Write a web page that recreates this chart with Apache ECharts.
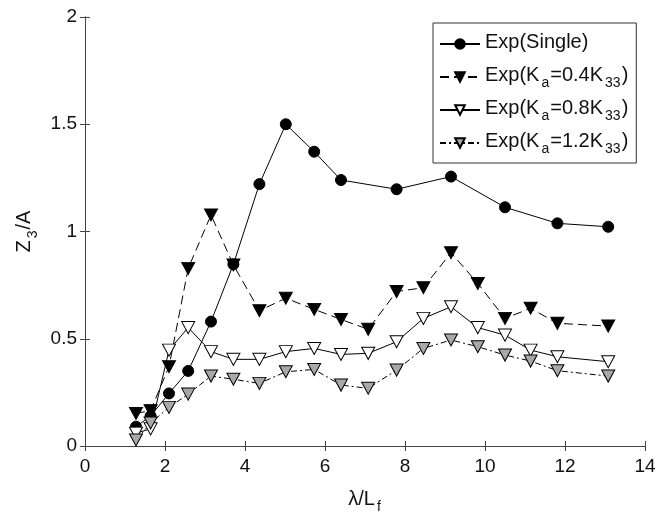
<!DOCTYPE html>
<html>
<head>
<meta charset="utf-8">
<script src="https://cdn.jsdelivr.net/npm/echarts@6/dist/echarts.min.js"></script>
<style>
  html, body { margin: 0; padding: 0; background: #fff; }
  #chart { width: 671px; height: 515px; }
</style>
</head>
<body>
<div id="chart"></div>
<script>
// λ/Lf 取值
const xSingle = [1.275, 1.64, 2.1, 2.58, 3.15, 3.71, 4.36, 5.02, 5.73, 6.4, 7.79, 9.15, 10.5, 11.81, 13.08]
const xKa = [1.275, 1.64, 2.1, 2.58, 3.15, 3.71, 4.36, 5.02, 5.73, 6.4, 7.08, 7.79, 8.46, 9.15, 9.82, 10.5, 11.14, 11.81, 13.08]

// Z3/A
const ySingle = [0.09, 0.14, 0.245, 0.35, 0.58, 0.847, 1.221, 1.5, 1.372, 1.24, 1.197, 1.256, 1.113, 1.038, 1.022]
const yKa04 = [0.152, 0.165, 0.37, 0.828, 1.077, 0.844, 0.631, 0.689, 0.637, 0.59, 0.544, 0.72, 0.738, 0.901, 0.758, 0.595, 0.642, 0.572, 0.559]
const yKa08 = [0.06, 0.08, 0.447, 0.552, 0.44, 0.404, 0.404, 0.44, 0.455, 0.427, 0.432, 0.486, 0.595, 0.649, 0.552, 0.517, 0.447, 0.416, 0.393]
const yKa12 = [0.028, 0.107, 0.18, 0.242, 0.326, 0.311, 0.292, 0.346, 0.357, 0.284, 0.269, 0.354, 0.455, 0.494, 0.463, 0.424, 0.396, 0.351, 0.326]

const seriesNames = ['Exp(Single)', 'Exp(Ka=0.4K33)', 'Exp(Ka=0.8K33)', 'Exp(Ka=1.2K33)']
// 图例里带下标的写法
const legendRich = {
  'Exp(Single)': '{n|Exp(Single)}{s| }',
  'Exp(Ka=0.4K33)': '{n|Exp(K}{s|a}{n|=0.4K}{s|33}{n|)}',
  'Exp(Ka=0.8K33)': '{n|Exp(K}{s|a}{n|=0.8K}{s|33}{n|)}',
  'Exp(Ka=1.2K33)': '{n|Exp(K}{s|a}{n|=1.2K}{s|33}{n|)}'
}

const FONT = '"Liberation Sans", Arial, sans-serif'
const triDown = 'path://M0,0 L12,0 L6,11 Z'
const subRich = {
  n: { fontSize: 20, lineHeight: 24, verticalAlign: 'top', fontFamily: FONT, color: '#111' },
  s: { fontSize: 14, lineHeight: 14, padding: [12, 1, 0, 2], fontFamily: FONT, color: '#111' }
}

const pair = (xs, ys) => xs.map((x, i) => [x, ys[i]])

const chart = echarts.init(document.getElementById('chart'))
const axisLine = { show: true, lineStyle: { color: '#444', width: 1 } }
const tick = { show: true, inside: true, length: 5, lineStyle: { color: '#444' } }
const tickLabel = { fontFamily: FONT, fontSize: 19, color: '#111' }

const option = {
  animation: false,
  backgroundColor: '#fff',
  grid: { left: 85, right: 26, top: 17, bottom: 69, outerBoundsMode: 'none', containLabel: false },
  legend: {
    data: seriesNames,
    orient: 'vertical',
    left: 433,
    top: 23,
    padding: [8, 8, 7, 6],
    itemGap: 7,
    itemWidth: 40,
    itemHeight: 12,
    borderColor: '#333',
    borderWidth: 1,
    borderRadius: 0,
    backgroundColor: '#fff',
    formatter: name => legendRich[name],
    textStyle: { fontFamily: FONT, fontSize: 20, color: '#111', rich: subRich }
  },
  xAxis: [
    {
      type: 'value', min: 0, max: 14, interval: 2,
      name: '{n|λ/L}{s|f}', nameLocation: 'middle', nameGap: 43,
      nameTextStyle: { rich: subRich },
      axisLine, axisTick: tick, splitLine: { show: false },
      axisLabel: Object.assign({ margin: 11 }, tickLabel)
    },
    {
      type: 'value', min: 0, max: 14, interval: 2, position: 'top',
      axisLine, axisTick: tick, splitLine: { show: false }, axisLabel: { show: false }
    }
  ],
  yAxis: [
    {
      type: 'value', min: 0, max: 2, interval: 0.5,
      name: '{n|Z}{s|3}{n|/A}', nameLocation: 'middle', nameGap: 44, nameRotate: 90,
      nameTextStyle: { rich: subRich },
      axisLine, axisTick: tick, splitLine: { show: false },
      axisLabel: Object.assign({ margin: 8 }, tickLabel)
    },
    {
      type: 'value', min: 0, max: 2, interval: 0.5, position: 'right',
      axisLine, axisTick: tick, splitLine: { show: false }, axisLabel: { show: false }
    }
  ],
  series: [
    {
      name: seriesNames[0], type: 'line', data: pair(xSingle, ySingle),
      symbol: 'circle', symbolSize: 11,
      lineStyle: { color: '#000', width: 1 },
      itemStyle: { color: '#000', borderColor: '#000', borderWidth: 1 }
    },
    {
      name: seriesNames[1], type: 'line', data: pair(xKa, yKa04),
      symbol: triDown, symbolSize: [13, 12],
      lineStyle: { color: '#000', width: 1, type: [9, 5] },
      itemStyle: { color: '#000', borderColor: '#000', borderWidth: 1 }
    },
    {
      name: seriesNames[2], type: 'line', data: pair(xKa, yKa08),
      symbol: triDown, symbolSize: [13, 12],
      lineStyle: { color: '#000', width: 1 },
      itemStyle: { color: '#fff', borderColor: '#000', borderWidth: 1 }
    },
    {
      name: seriesNames[3], type: 'line', data: pair(xKa, yKa12),
      symbol: triDown, symbolSize: [13, 12],
      lineStyle: { color: '#000', width: 1, type: [6, 3, 2, 3] },
      itemStyle: { color: '#a8a8a8', borderColor: '#000', borderWidth: 1 }
    }
  ]
}
chart.setOption(option)
</script>
</body>
</html>
